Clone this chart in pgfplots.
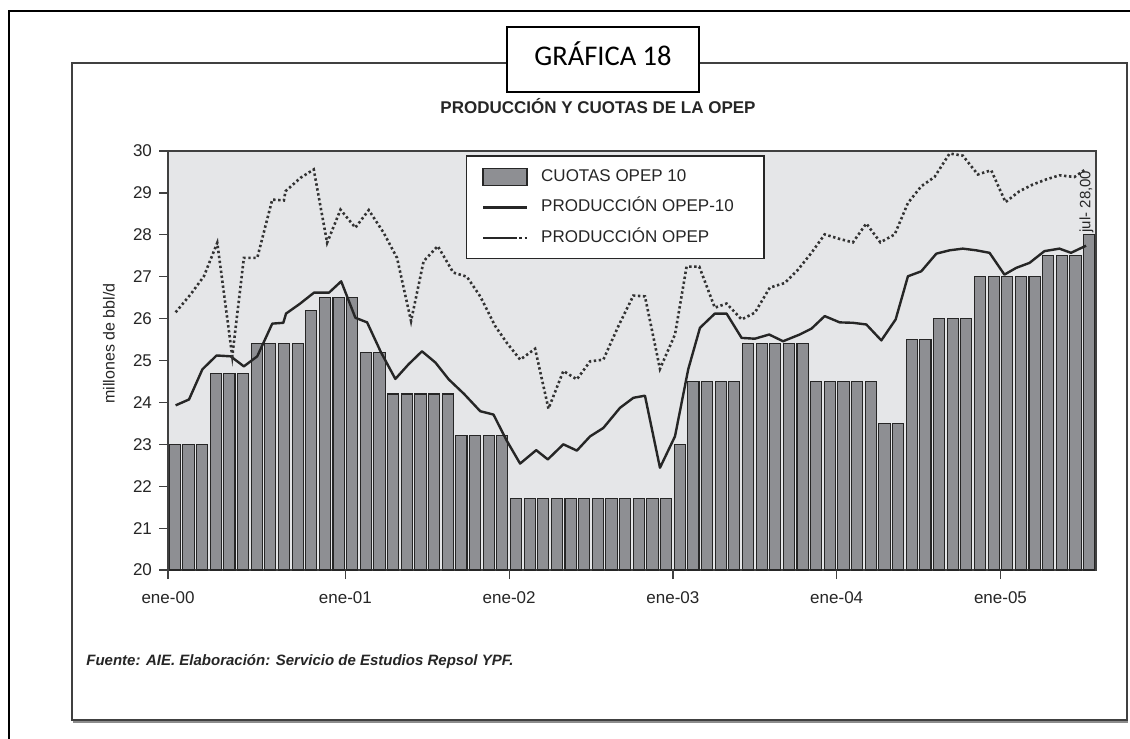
\documentclass[border=0pt]{standalone}
\usepackage{pgfplots}
\pgfplotsset{compat=1.18}
\usepackage{pgfplotstable}
\usepackage{fontspec}
\setmainfont{Liberation Sans}
\newfontfamily\carlito{Carlito}
\definecolor{bargray}{HTML}{8E8F93}
\definecolor{bggray}{HTML}{E5E6E8}
\definecolor{ink}{HTML}{262626}

\pgfplotstableread{
x q
0.5 23.0
1.5 23.0
2.5 23.0
3.5 24.7
4.5 24.7
5.5 24.7
6.5 25.4
7.5 25.4
8.5 25.4
9.5 25.4
10.5 26.2
11.5 26.5
12.5 26.5
13.5 26.5
14.5 25.2
15.5 25.2
16.5 24.2
17.5 24.2
18.5 24.2
19.5 24.2
20.5 24.2
21.5 23.2
22.5 23.2
23.5 23.2
24.5 23.2
25.5 21.7
26.5 21.7
27.5 21.7
28.5 21.7
29.5 21.7
30.5 21.7
31.5 21.7
32.5 21.7
33.5 21.7
34.5 21.7
35.5 21.7
36.5 21.7
37.5 23.0
38.5 24.5
39.5 24.5
40.5 24.5
41.5 24.5
42.5 25.4
43.5 25.4
44.5 25.4
45.5 25.4
46.5 25.4
47.5 24.5
48.5 24.5
49.5 24.5
50.5 24.5
51.5 24.5
52.5 23.5
53.5 23.5
54.5 25.5
55.5 25.5
56.5 26.0
57.5 26.0
58.5 26.0
59.5 27.0
60.5 27.0
61.5 27.0
62.5 27.0
63.5 27.0
64.5 27.5
65.5 27.5
66.5 27.5
67.5 28.0
}\cuotas

\pgfplotstableread{
x p
0.56 23.93
1.54 24.07
2.52 24.79
3.56 25.12
4.59 25.10
5.56 24.86
6.54 25.10
7.64 25.88
8.45 25.90
8.65 26.12
9.65 26.35
10.7 26.62
11.8 26.62
12.69 26.89
13.73 26.02
14.59 25.91
15.6 25.20
16.66 24.56
17.6 24.90
18.61 25.22
19.6 24.95
20.57 24.55
21.7 24.20
22.88 23.79
23.85 23.71
24.8 23.10
25.80 22.54
26.98 22.86
27.83 22.64
28.97 23.00
29.96 22.85
30.93 23.19
31.90 23.39
33.12 23.87
34.10 24.11
34.95 24.16
36.05 22.44
37.15 23.19
38.12 24.79
38.98 25.78
40.07 26.12
40.93 26.12
42.03 25.54
43.0 25.52
44.05 25.62
45.07 25.46
46.29 25.62
47.15 25.76
48.12 26.06
49.22 25.91
50.19 25.90
51.17 25.86
52.27 25.48
53.32 25.98
54.22 27.01
55.2 27.13
56.3 27.55
57.27 27.63
58.24 27.67
59.22 27.63
60.2 27.57
61.29 27.05
62.15 27.21
63.13 27.33
64.22 27.61
65.32 27.67
66.17 27.57
67.27 27.74
}\prodten

\pgfplotstableread{
x p
0.56 26.15
1.66 26.58
2.63 27.01
3.61 27.81
4.71 25.10
5.56 27.45
6.54 27.45
7.64 28.84
8.49 28.82
8.61 29.04
9.71 29.36
10.68 29.56
11.66 27.81
12.64 28.60
13.73 28.17
14.71 28.59
15.8 28.05
16.78 27.45
17.81 25.94
18.73 27.37
19.77 27.73
20.9 27.10
21.9 27.00
22.88 26.53
23.98 25.82
24.83 25.42
25.81 25.02
26.9 25.28
27.88 23.85
28.97 24.75
29.96 24.55
30.93 24.98
31.9 25.02
33.0 25.82
34.1 26.55
34.95 26.53
36.05 24.80
37.15 25.62
38.0 27.24
38.93 27.24
40.07 26.26
40.93 26.36
42.03 25.98
43.0 26.14
44.1 26.74
45.2 26.85
46.17 27.17
47.15 27.57
48.12 28.01
49.22 27.90
50.19 27.82
51.17 28.27
52.2 27.82
53.25 28.01
54.22 28.76
55.2 29.16
56.17 29.38
57.27 29.94
58.24 29.89
59.34 29.44
60.32 29.54
61.37 28.78
62.39 29.04
63.37 29.20
64.34 29.32
65.32 29.42
66.42 29.38
67.22 29.56
}\prodall

\begin{document}
\begin{tikzpicture}
\useasboundingbox (0,0) rectangle (565pt,-369.5pt);
\fill[white] (0,0) rectangle (565pt,-369.5pt);
\begin{scope}[x=0.5pt,y=-0.5pt]
  \draw[black, line width=1.25pt] (9,760) -- (9,11) -- (1150,11);
  \draw[black!75, line width=0.8pt] (72,63) rectangle (1127,720);
  \draw[black!45, line width=0.9pt] (73,722) -- (1128,722);
  \draw[black, line width=0.8pt, fill=white] (507,27) rectangle (699,92);
  \node[anchor=base, inner sep=0pt, font=\carlito\fontsize{14.25}{16}\selectfont] at (603,65) {GRÁFICA 18};
  \node[anchor=base, inner sep=0pt, font=\bfseries\fontsize{8.5}{10}\selectfont, text=ink] at (598,113) {PRODUCCIÓN Y CUOTAS DE LA OPEP};
  \node[anchor=base west, inner sep=0pt, font=\bfseries\itshape\fontsize{7.5}{9}\selectfont, text=ink] at (86,665) {Fuente: AIE. Elaboración: Servicio de Estudios Repsol YPF.};
  \node[rotate=90, inner sep=0pt, font=\fontsize{8}{9}\selectfont, text=ink] at (109,343.5) {millones de bbl/d};
\end{scope}
\begin{axis}[
  at={(84pt,-285pt)}, anchor=south west,
  width=464pt, height=209.5pt, scale only axis,
  xmin=0, xmax=68, ymin=20, ymax=30,
  axis background/.style={fill=bggray},
  axis line style={draw=black!75, line width=0.8pt},
  tick align=outside, xtick pos=left, ytick pos=left,
  major tick length=4.5pt,
  tick style={draw=black!75, line width=0.6pt},
  ytick={20,21,...,30},
  xtick={0,13,25,37,49,61},
  xticklabels={ene-00,ene-01,ene-02,ene-03,ene-04,ene-05},
  ticklabel style={font=\fontsize{8.5}{10}\selectfont, text=ink},
  /pgf/number format/assume math mode=true,
  xticklabel style={yshift=-3pt},
  legend cell align=left,
  legend style={at={(0.322,0.988)}, anchor=north west, draw=black!85, line width=0.6pt, fill=white,
    inner xsep=7.5pt, inner ysep=4pt, row sep=2.2pt, outer sep=0pt,
    font=\fontsize{8.5}{10}\selectfont, text=ink,
    nodes={inner ysep=2.5pt, inner xsep=3pt, text height=6.2pt, text depth=1.8pt}},
]
\addplot[ybar, bar width=0.82, fill=bargray, draw=black!85, line width=0.55pt,
  legend image code/.code={\draw[solid, fill=bargray, draw=black!85, line width=0.55pt] (0pt,-4.25pt) rectangle (22pt,4.25pt);}]
  table[x=x, y=q] {\cuotas};
\addlegendentry{\hspace{3.5pt}CUOTAS OPEP 10}
\addplot[ink, line width=1.2pt, line join=round, mark=none,
  legend image code/.code={\draw[solid, ink, line width=1.2pt] (0pt,0pt) -- (22pt,0pt);}]
  table[x=x, y=p] {\prodten};
\addlegendentry{\hspace{3.5pt}PRODUCCIÓN OPEP-10\rule{4.5pt}{0pt}}
\addplot[black!80, line width=1.3pt, dash pattern=on 1.2pt off 1.3pt, mark=none,
  legend image code/.code={\draw[solid, ink, line width=1.2pt] (0pt,0pt) -- (17pt,0pt); \draw[ink, line width=1.2pt, dash pattern=on 1.2pt off 1.4pt] (18.2pt,0pt) -- (22pt,0pt);}]
  table[x=x, y=p] {\prodall};
\addlegendentry{\hspace{3.5pt}PRODUCCIÓN OPEP}
\node[rotate=90, anchor=west, inner sep=1pt, font=\fontsize{7.5}{8}\selectfont, text=ink] at (axis cs:67.3,28.0) {jul- 28,00};
\end{axis}
\end{tikzpicture}
\end{document}
